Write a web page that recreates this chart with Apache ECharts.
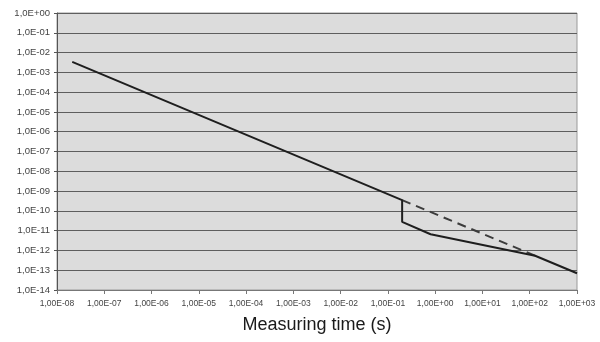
<!DOCTYPE html>
<html>
<head>
<meta charset="utf-8">
<script src="https://cdn.jsdelivr.net/npm/echarts@6/dist/echarts.min.js"></script>
<style>
  html, body { margin: 0; padding: 0; background: #ffffff; }
  #chart { width: 600px; height: 342px; }
</style>
</head>
<body>
<div id="chart"></div>
<script>
// Measured decay (solid) and the extrapolated trend (dashed), log-log
const solidTime  = [2.1e-8, 0.2, 0.2, 0.8, 130, 1000];
const solidValue = [3.4e-3, 3.5e-10, 2.8e-11, 6.6e-12, 5.4e-13, 7.0e-14];
const dashedTime  = [0.2, 130];
const dashedValue = [3.5e-10, 5.4e-13];

const xTickLabels = ['1,00E-08','1,00E-07','1,00E-06','1,00E-05','1,00E-04','1,00E-03',
                     '1,00E-02','1,00E-01','1,00E+00','1,00E+01','1,00E+02','1,00E+03'];
const yTickLabels = ['1,0E-14','1,0E-13','1,0E-12','1,0E-11','1,0E-10','1,0E-09','1,0E-08',
                     '1,0E-07','1,0E-06','1,0E-05','1,0E-04','1,0E-03','1,0E-02','1,0E-01','1,0E+00'];

const xMinExp = -8, yMinExp = -14;
const pick = (labels, minExp) => v => {
  const i = Math.round(Math.log10(v)) - minExp;
  return labels[i] !== undefined ? labels[i] : '';
};
const zip = (a, b) => a.map((t, i) => [t, b[i]]);

const chart = echarts.init(document.getElementById('chart'), null, { renderer: 'canvas' });
chart.setOption({
  animation: false,
  backgroundColor: '#ffffff',
  grid: {
    left: 57, right: 23, top: 13, bottom: 52,
    show: true,
    backgroundColor: '#dcdcdc',
    borderColor: '#9a9a9a',
    borderWidth: 1
  },
  xAxis: {
    type: 'log',
    logBase: 10,
    min: 1e-8,
    max: 1e3,
    interval: 1,
    name: 'Measuring time (s)',
    nameLocation: 'middle',
    nameGap: 26,
    nameTextStyle: { fontFamily: 'Liberation Sans, Arial, sans-serif', fontSize: 18, color: '#1a1a1a' },
    axisLine: { show: true, lineStyle: { color: '#777', width: 1 } },
    axisTick: { show: true, length: 4, lineStyle: { color: '#777' } },
    axisLabel: {
      formatter: pick(xTickLabels, xMinExp),
      fontFamily: 'Liberation Sans, Arial, sans-serif',
      fontSize: 8.5, color: '#444', margin: 9
    },
    splitLine: { show: false },
    minorTick: { show: false }
  },
  yAxis: {
    type: 'log',
    logBase: 10,
    min: 1e-14,
    max: 1,
    interval: 1,
    axisLine: { show: true, lineStyle: { color: '#555', width: 1 } },
    axisTick: { show: true, length: 3, lineStyle: { color: '#555' } },
    axisLabel: {
      formatter: pick(yTickLabels, yMinExp),
      fontFamily: 'Liberation Sans, Arial, sans-serif',
      fontSize: 9.5, color: '#444', margin: 7
    },
    splitLine: { show: true, lineStyle: { color: '#5e5e5e', width: 1 } }
  },
  series: [
    {
      name: 'extrapolated',
      type: 'line',
      data: zip(dashedTime, dashedValue),
      symbol: 'none',
      lineStyle: { color: '#3c3c3c', width: 2, type: [9, 6] },
      z: 2
    },
    {
      name: 'measured',
      type: 'line',
      data: zip(solidTime, solidValue),
      symbol: 'none',
      lineStyle: { color: '#1e1e1e', width: 2 },
      z: 3
    }
  ]
});
</script>
</body>
</html>
